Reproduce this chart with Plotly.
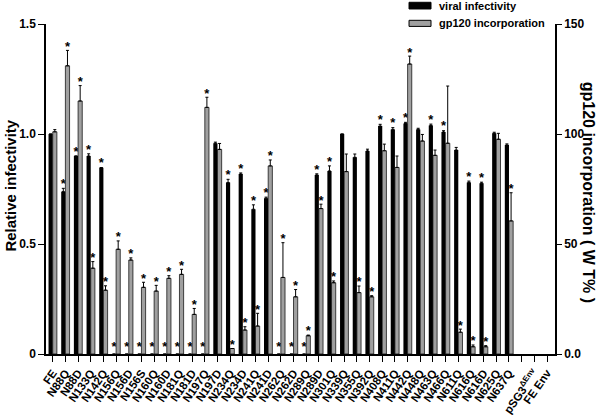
import plotly.graph_objects as go

categories = ["FE", "N88Q", "N88D", "N133Q", "N142Q", "N156Q", "N156D", "N156S",
              "N160Q", "N160D", "N181Q", "N181D", "N197Q", "N197D", "N234Q", "N234D",
              "N241Q", "N241D", "N262Q", "N262D", "N289Q", "N289D", "N301Q", "N339Q",
              "N355Q", "N392Q", "N408Q", "N411Q", "N442Q", "N448Q", "N463Q", "N466Q",
              "N611Q", "N616Q", "N616D", "N625Q", "N637Q", "", "pSG3<sup>\u0394Env</sup>", "FE Env"]

# relative viral infectivity (left axis)
infectivity = [1.00, 0.738, 0.90, 0.90, 0.847, 0, 0, 0, 0, 0, 0, 0, 0, 0.958, 0.779, 0.818,
               0.658, 0.708, 0, 0, 0, 0.814, 0.832, 1.00, 0.894, 0.923, 1.036, 1.021, 1.048,
               1.021, 1.039, 1.009, 0.927, 0.78, 0.776, 1.003, 0.95, None, None, None]
infectivity_err = [0.0, 0.015, 0.0, 0.01, 0.0, 0, 0, 0, 0, 0, 0, 0, 0, 0.005, 0.015, 0.005,
                   0.02, 0.005, 0, 0, 0, 0.005, 0.023, 0.0, 0.015, 0.008, 0.008, 0.008, 0.005,
                   0.005, 0.006, 0.006, 0.012, 0.006, 0.005, 0.005, 0.005, None, None, None]
infectivity_sig = [0, 1, 1, 1, 1, 1, 1, 1, 1, 1, 1, 1, 1, 0, 1, 1,
                   1, 1, 1, 1, 1, 1, 1, 0, 0, 0, 1, 1, 1,
                   0, 1, 1, 0, 1, 1, 0, 0, 0, 0, 0]

# gp120 incorporation, % of wild type (right axis)
gp120 = [101, 131, 115, 39, 29, 47.6, 42.7, 30.3, 28.6, 34.4, 36.2, 18.0, 112.1, 93, 2.5, 10.9,
         12.7, 85.5, 34.8, 26, 8.3, 66.1, 32.4, 82.9, 27.9, 26, 92.4, 84.8, 131.8,
         96.8, 90.3, 95.8, 9.9, 3.3, 3.3, 97.6, 60.5, None, None, None]
gp120_err = [1.0, 7, 7, 3, 2, 3.8, 1.0, 2.3, 2.6, 1.2, 2.3, 2.7, 4.6, 2.7, 0, 1.5,
             5.8, 2.7, 15.8, 3.3, 0.3, 2.0, 0.8, 8, 3, 0.5, 3, 5.2, 3.6,
             3, 2.4, 26, 1.4, 0.8, 0.5, 2.7, 12.8, None, None, None]
gp120_sig = [0, 1, 1, 1, 1, 1, 1, 1, 1, 1, 1, 1, 1, 0, 1, 1,
             1, 1, 1, 1, 1, 1, 1, 0, 1, 1, 0, 0, 1,
             0, 0, 0, 1, 1, 1, 0, 1, 0, 0, 0]

n = len(categories)
xs = list(range(n))
BW = 0.33
FONT = "Liberation Sans, Arial, sans-serif"

fig = go.Figure()
fig.add_trace(go.Bar(
    x=xs, y=infectivity, width=BW, offset=-BW, yaxis="y",
    marker=dict(color="black", line=dict(width=0)),
    error_y=dict(type="data", array=infectivity_err, arrayminus=[0] * n, symmetric=False,
                 color="black", thickness=1, width=1.5),
    name="viral infectivity"))
fig.add_trace(go.Bar(
    x=xs, y=gp120, width=BW, offset=0, yaxis="y2",
    marker=dict(color="#a0a0a0", line=dict(color="black", width=0.7)),
    error_y=dict(type="data", array=gp120_err, arrayminus=[0] * n, symmetric=False,
                 color="black", thickness=1, width=1.5),
    name="gp120 incorporation"))

# significance stars
sx, sy = [], []
for i in range(n):
    if infectivity_sig[i]:
        v = (infectivity[i] or 0) + (infectivity_err[i] or 0)
        sx.append(i - BW / 2)
        sy.append(max(v, 0.014) + 0.016)
fig.add_trace(go.Scatter(x=sx, y=sy, mode="text", text=["*"] * len(sx), yaxis="y",
                         textposition="middle center", cliponaxis=False,
                         textfont=dict(family=FONT, size=13, color="black", weight="bold"),
                         hoverinfo="skip"))
gx, gy = [], []
for i in range(n):
    if gp120_sig[i]:
        v = (gp120[i] or 0) + (gp120_err[i] or 0)
        gx.append(i + BW / 2)
        gy.append(v + 1.3)
fig.add_trace(go.Scatter(x=gx, y=gy, mode="text", text=["*"] * len(gx), yaxis="y2",
                         textposition="middle center", cliponaxis=False,
                         textfont=dict(family=FONT, size=13, color="black", weight="bold"),
                         hoverinfo="skip"))

axis_common = dict(showline=True, linecolor="black", linewidth=1.5, ticks="outside",
                   tickcolor="black", tickwidth=1, showgrid=False, zeroline=False,
                   automargin=False)

fig.update_layout(
    width=600, height=415,
    margin=dict(l=46, r=45, t=24, b=61, autoexpand=False),
    paper_bgcolor="white", plot_bgcolor="white",
    showlegend=False,
    font=dict(family=FONT, color="black"),
    xaxis=dict(range=[-0.53, 39.63], tickmode="array", tickvals=xs, ticktext=categories,
               tickangle=-55, ticklen=6,
               tickfont=dict(family=FONT, size=11.5, color="black", weight="bold"),
               **axis_common),
    yaxis=dict(range=[0, 1.5], tickmode="array", tickvals=[0, 0.5, 1.0, 1.5],
               ticktext=["0", "0.5", "1.0", "1.5"], ticklen=6,
               tickfont=dict(family=FONT, size=12, color="black", weight="bold"),
               **axis_common),
    yaxis2=dict(range=[0, 150], overlaying="y", side="right", tickmode="array",
                tickvals=[0, 50, 100, 150], ticktext=["0.0", "50", "100", "150"], ticklen=5,
                tickfont=dict(family=FONT, size=12, color="black", weight="bold"),
                **axis_common),
)

# axis titles
fig.add_annotation(text="Relative infectivity", xref="paper", yref="paper",
                   x=-0.069, y=0.51, textangle=-90, showarrow=False,
                   xanchor="center", yanchor="middle",
                   font=dict(family=FONT, size=15, color="black", weight="bold"))
fig.add_annotation(text="gp120 incorporation ( W T% )", xref="paper", yref="paper",
                   x=1.066, y=0.49, textangle=90, showarrow=False,
                   xanchor="center", yanchor="middle",
                   font=dict(family=FONT, size=16, color="black", weight="bold"))

# legend keys
fig.add_shape(type="rect", xref="paper", yref="paper", x0=0.7132, x1=0.7564,
              y0=1.0455, y1=1.0658, fillcolor="black", line=dict(color="black", width=1))
fig.add_shape(type="rect", xref="paper", yref="paper", x0=0.7132, x1=0.7564,
              y0=0.9927, y1=1.0112, fillcolor="#a0a0a0", line=dict(color="black", width=1))
fig.add_annotation(text="viral infectivity", xref="paper", yref="paper", x=0.768, y=1.0555,
                   xanchor="left", yanchor="middle", showarrow=False,
                   font=dict(family=FONT, size=11, color="black", weight="bold"))
fig.add_annotation(text="gp120 incorporation", xref="paper", yref="paper", x=0.768, y=1.002,
                   xanchor="left", yanchor="middle", showarrow=False,
                   font=dict(family=FONT, size=11, color="black", weight="bold"))

fig.write_html("out.html", config={"displayModeBar": False},
               post_script="document.body.style.margin='0';")
